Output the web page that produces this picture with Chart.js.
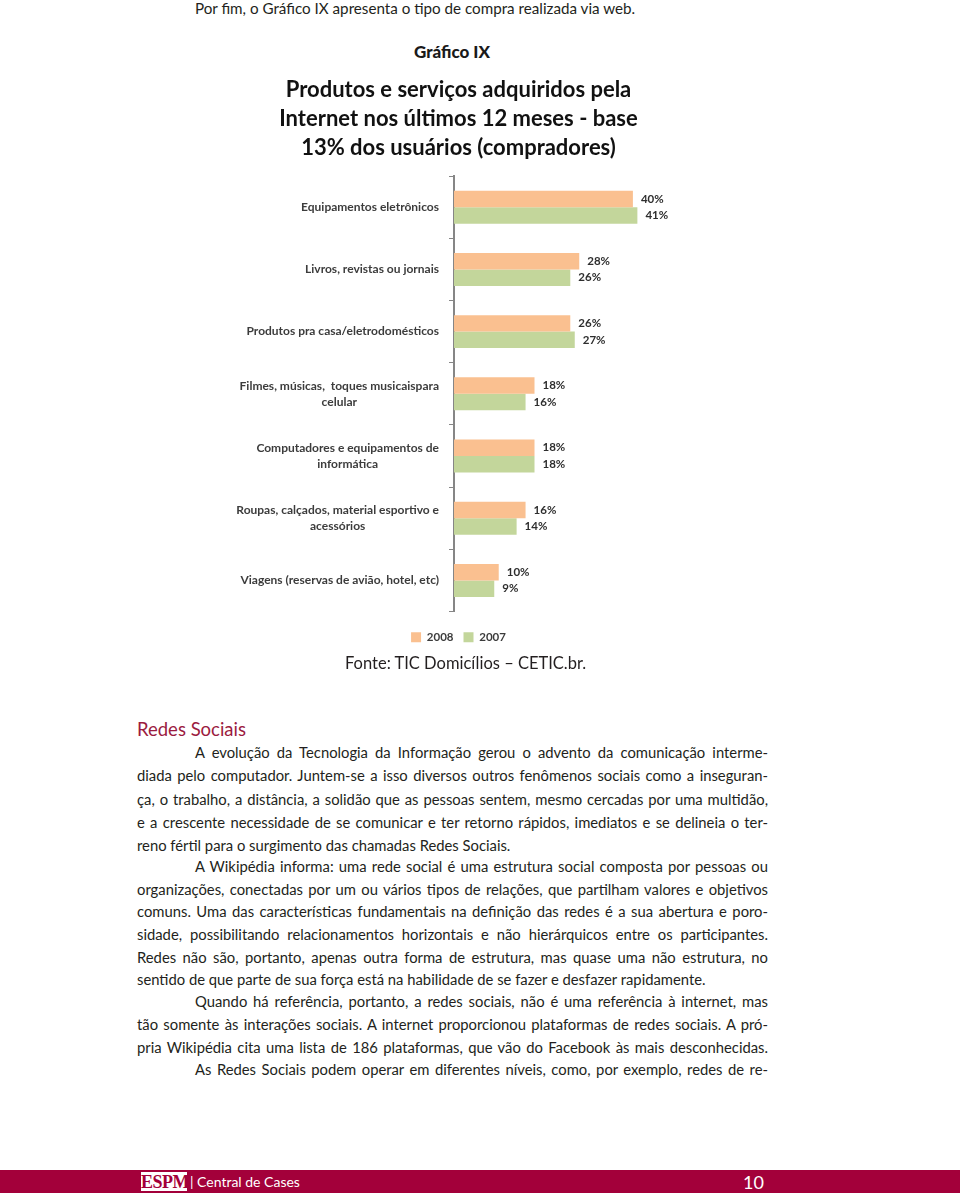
<!DOCTYPE html>
<html lang="pt-BR">
<head>
<meta charset="utf-8">
<script src="https://cdn.jsdelivr.net/npm/chart.js@4.4.1/dist/chart.umd.min.js"></script>
<style>
  html, body { margin: 0; padding: 0; background: #fff; }
  body { width: 960px; height: 1196px; position: relative; overflow: hidden; font-family: 'Lato', sans-serif; color: #231f20; }
  .abs { position: absolute; white-space: nowrap; }
  .l { position: absolute; left: 137px; width: 631px; font-size: 14.8px; line-height: 20px; text-align: justify; text-align-last: justify; }
  .l.ind { left: 195px; width: 573px; }
  .l.fim { text-align-last: left; }
  #grafico { position: absolute; left: 217px; top: 70px; }
  #rodape { position: absolute; left: 0; top: 1170px; width: 960px; height: 23px; background: #a3003a; }
</style>
</head>
<body>
<div class="abs" style="left:195px; top:-2px; font-size:15.2px; line-height:20px;">Por fim, o Gráfico IX apresenta o tipo de compra realizada via web.</div>
<div class="abs" style="left:0; width:904px; text-align:center; top:41px; font-size:17px; font-weight:900; line-height:22px; color:#1a1a1a;">Gráfico IX</div>

<canvas id="grafico" width="483" height="583"></canvas>

<div class="abs" style="left:345px; top:652px; font-size:16.5px; line-height:22px;">Fonte: TIC Domicílios – CETIC.br.</div>

<div class="abs" style="left:137px; top:718px; font-size:18.5px; line-height:22px; color:#9b1b40;">Redes Sociais</div>

<div class="l ind" style="top:742px;">A evolução da Tecnologia da Informação gerou o advento da comunicação interme-</div>
<div class="l" style="top:765px;">diada pelo computador. Juntem-se a isso diversos outros fenômenos sociais como a inseguran-</div>
<div class="l" style="top:789px;">ça, o trabalho, a distância, a solidão que as pessoas sentem, mesmo cercadas por uma multidão,</div>
<div class="l" style="top:812px;">e a crescente necessidade de se comunicar e ter retorno rápidos, imediatos e se delineia o ter-</div>
<div class="l fim" style="top:835px;">reno fértil para o surgimento das chamadas Redes Sociais.</div>
<div class="l ind" style="top:856px;">A Wikipédia informa: uma rede social é uma estrutura social composta por pessoas ou</div>
<div class="l" style="top:879px;">organizações, conectadas por um ou vários tipos de relações, que partilham valores e objetivos</div>
<div class="l" style="top:901px;">comuns. Uma das características fundamentais na definição das redes é a sua abertura e poro-</div>
<div class="l" style="top:924px;">sidade, possibilitando relacionamentos horizontais e não hierárquicos entre os participantes.</div>
<div class="l" style="top:947px;">Redes não são, portanto, apenas outra forma de estrutura, mas quase uma não estrutura, no</div>
<div class="l fim" style="top:969px;">sentido de que parte de sua força está na habilidade de se fazer e desfazer rapidamente.</div>
<div class="l ind" style="top:991px;">Quando há referência, portanto, a redes sociais, não é uma referência à internet, mas</div>
<div class="l" style="top:1014px;">tão somente às interações sociais. A internet proporcionou plataformas de redes sociais. A pró-</div>
<div class="l" style="top:1037px;">pria Wikipédia cita uma lista de 186 plataformas, que vão do Facebook às mais desconhecidas.</div>
<div class="l ind" style="top:1059px;">As Redes Sociais podem operar em diferentes níveis, como, por exemplo, redes de re-</div>

<div id="rodape">
  <div class="abs" style="left:141px; top:2px; width:46px; height:19px; background:#fff; color:#a3003a; font-family:'Liberation Serif', serif; font-weight:bold; font-size:18px; line-height:20px; text-align:center; letter-spacing:-0.5px;">ESPM</div>
  <div class="abs" style="left:190px; top:2px; color:#fff; font-size:14px; line-height:20px;">| Central de Cases</div>
  <div class="abs" style="left:743px; top:1px; color:#fff; font-size:18px; line-height:22px;">10</div>
</div>

<script>
// Categorias (linhas de cada rótulo) e valores
const categorias = [
  ['Equipamentos eletrônicos'],
  ['Livros, revistas ou jornais'],
  ['Produtos pra casa/eletrodomésticos'],
  ['Filmes, músicas,  toques musicaispara', 'celular'],
  ['Computadores e equipamentos de', 'informática'],
  ['Roupas, calçados, material esportivo e', 'acessórios'],
  ['Viagens (reservas de avião, hotel, etc)']
];
const anos = ['2008', '2007'];
const valores2008 = [40, 28, 26, 18, 18, 16, 10];
const valores2007 = [41, 26, 27, 16, 18, 14, 9];
const titulo = [
  'Produtos e serviços adquiridos pela',
  'Internet nos últimos 12 meses - base',
  '13% dos usuários (compradores)'
];

const corEixo = '#868686';
const corTexto = '#3c3c3c';

// desenha os rótulos das categorias (centralizados entre si) e os percentuais
const rotulosPlugin = {
  id: 'rotulos',
  afterDatasetsDraw(chart) {
    const ctx = chart.ctx;
    const escalaY = chart.scales.y;
    ctx.save();
    ctx.textBaseline = 'middle';

    ctx.font = 'bold 11.5px Lato';
    ctx.fillStyle = '#2e2e2e';
    ctx.textAlign = 'left';
    chart.data.datasets.forEach((ds, i) => {
      chart.getDatasetMeta(i).data.forEach((barra, j) => {
        ctx.fillText(ds.data[j] + '%', barra.x + 8, barra.y);
      });
    });

    ctx.font = 'bold 12px Lato';
    ctx.fillStyle = corTexto;
    ctx.textAlign = 'center';
    categorias.forEach((linhas, j) => {
      const cy = escalaY.getPixelForValue(j);
      const w = Math.max(...linhas.map(t => ctx.measureText(t).width));
      const cx = escalaY.right - 15 - w / 2;
      linhas.forEach((t, k) => {
        ctx.fillText(t, cx, cy + (k - (linhas.length - 1) / 2) * 16);
      });
    });
    ctx.restore();
  }
};

new Chart(document.getElementById('grafico'), {
  type: 'bar',
  data: {
    labels: categorias,
    datasets: [
      { label: anos[0], data: valores2008, backgroundColor: '#fac090' },
      { label: anos[1], data: valores2007, backgroundColor: '#c3d69b' }
    ]
  },
  options: {
    indexAxis: 'y',
    responsive: false,
    animation: false,
    devicePixelRatio: 1,
    categoryPercentage: 0.53,
    barPercentage: 1,
    layout: { padding: 0 },
    plugins: {
      title: {
        display: true,
        text: titulo,
        color: '#111',
        font: { family: 'Lato', size: 22, weight: 'bold', lineHeight: 1.32 },
        padding: { top: 5, bottom: 14 }
      },
      legend: {
        position: 'bottom',
        labels: {
          boxWidth: 10,
          boxHeight: 10,
          padding: 10,
          color: corTexto,
          font: { family: 'Lato', size: 11.5, weight: 'bold' }
        }
      },
      tooltip: { enabled: false }
    },
    scales: {
      x: {
        min: 0,
        max: 55,
        ticks: { display: false },
        grid: { display: false },
        border: { display: false },
        afterFit(s) { s.height = 10; }
      },
      y: {
        ticks: { display: false },
        grid: { display: true, drawOnChartArea: false, drawTicks: true, tickLength: 5, color: corEixo, offset: true },
        border: { display: true, color: corEixo, width: 2 },
        afterFit(s) { s.width = 237; }
      }
    }
  },
  plugins: [rotulosPlugin]
});
</script>
</body>
</html>
